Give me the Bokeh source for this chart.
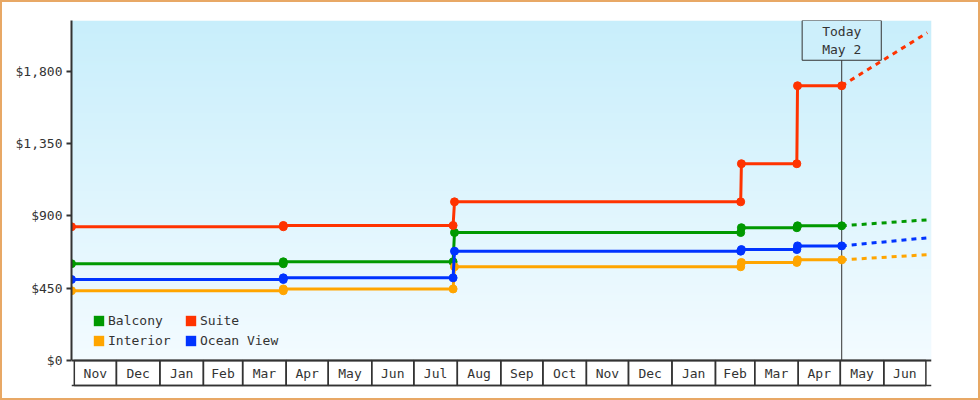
import numpy as np
import pandas as pd
from bokeh.plotting import figure
from bokeh.models import (Range1d, FixedTicker, NumeralTickFormatter, Legend,
                          LegendItem, Label)
from bokeh.core.properties import value
from bokeh.embed import file_html
from bokeh.resources import INLINE

FONT = "DejaVu Sans Mono"
TEXT = "#333333"

# ---------------- data ----------------
obs_dates = ["2013-10-30 00:00", "2014-03-30 00:00", "2014-03-30 00:00",
             "2014-07-29 00:00", "2014-07-30 00:00", "2015-02-19 00:00",
             "2015-02-19 12:00", "2015-03-31 00:00", "2015-03-31 12:00",
             "2015-05-02 00:00"]
balcony = [602, 602, 614, 614, 796, 796, 826, 826, 838, 838]
suite = [832, 832, 840, 840, 987, 987, 1224, 1224, 1709, 1709]
interior = [434, 434, 445, 445, 583, 583, 610, 610, 626, 626]
ocean_view = [504, 504, 514, 514, 680, 680, 690, 690, 713, 713]

proj_dates = ["2015-05-02 00:00", "2015-07-02 00:00"]
balcony_proj = [838, 875]
suite_proj = [1709, 2039]
interior_proj = [626, 658]
ocean_view_proj = [713, 763]

series_names = ["Balcony", "Suite", "Interior", "Ocean View"]
series_colors = ["#009900", "#ff3300", "#ffa500", "#0033ff"]

today = "2015-05-02 00:00"
today_text = "Today\nMay 2"

y_ticks = [0, 450, 900, 1350, 1800]
y_end = 2115
x_start = "2013-10-30 00:00"
x_end = "2015-07-05 00:00"

month_labels = ["Nov", "Dec", "Jan", "Feb", "Mar", "Apr", "May", "Jun", "Jul",
                "Aug", "Sep", "Oct", "Nov", "Dec", "Jan", "Feb", "Mar", "Apr",
                "May", "Jun"]
month_starts = pd.date_range("2013-11-01", periods=len(month_labels), freq="MS")
month_ends = month_starts + pd.offsets.MonthBegin(1)
month_mids = month_starts + (month_ends - month_starts) / 2

# ---------------- layout constants (pixels) ----------------
PLOT_H = 340      # price area height
STRIP_GAP = 27    # frame space below price zero (month strip)
STRIP_H = 25      # month strip box height

def ms(d):
    return pd.Timestamp(d).value / 1e6

y_start = -y_end * STRIP_GAP / PLOT_H
strip_lo = -(STRIP_GAP - STRIP_H) / STRIP_H
strip_hi = 1 + PLOT_H / STRIP_H

p = figure(width=980, height=400, x_axis_type="datetime", x_axis_location=None,
           x_range=Range1d(start=pd.Timestamp(x_start), end=pd.Timestamp(x_end)),
           y_range=Range1d(y_start, y_end),
           output_backend="svg", toolbar_location=None,
           min_border_left=71, min_border_right=49, min_border_top=20,
           min_border_bottom=400 - 20 - PLOT_H - STRIP_GAP,
           styles={"outline": "2px solid #e8a865", "outline-offset": "-2px",
                   "background-color": "white"})
p.extra_y_ranges = {"strip": Range1d(strip_lo, strip_hi)}
p.outline_line_color = None
p.border_fill_alpha = 0
p.background_fill_alpha = 0
p.grid.visible = False

# vertical gradient background of the price area
n = 256
t = np.linspace(0.0, 1.0, n)[:, None]
top = np.array([200, 238, 251])
bottom = np.array([243, 251, 255])
img = np.empty((n, 1), dtype=np.uint32)
view = img.view(dtype=np.uint8).reshape((n, 1, 4))
for k in range(3):
    view[:, :, k] = np.round(bottom[k] + (top[k] - bottom[k]) * t).astype(np.uint8)
view[:, :, 3] = 255
p.image_rgba(image=[img], x=ms(x_start), y=0, dw=ms(x_end) - ms(x_start), dh=y_end)

# today line
p.segment(x0=[pd.Timestamp(today)], y0=[0], x1=[pd.Timestamp(today)], y1=[y_end],
          line_color=TEXT, line_width=1)

dates = pd.to_datetime(obs_dates, format="%Y-%m-%d %H:%M")
pdates = pd.to_datetime(proj_dates, format="%Y-%m-%d %H:%M")
all_vals = [balcony, suite, interior, ocean_view]
all_proj = [balcony_proj, suite_proj, interior_proj, ocean_view_proj]
for vals, proj, c in zip(all_vals, all_proj, series_colors):
    p.line(x=pdates, y=proj, line_color=c, line_width=3, line_dash="5 5")
    p.line(x=dates, y=vals, line_color=c, line_width=3)
    p.scatter(x=dates, y=vals, size=8, color=c)

# month strip (acts as the x axis)
p.quad(left=month_starts, right=month_ends, bottom=0, top=1, fill_color=None,
       line_color=TEXT, line_width=1.5, y_range_name="strip")
p.hspan(y=[1], line_color=TEXT, line_width=2, y_range_name="strip")
p.hspan(y=[0], line_color=TEXT, line_width=1.5, y_range_name="strip")
p.text(x=month_mids, y=[0.5] * len(month_labels), text=month_labels,
       text_align="center", text_baseline="middle", text_font=value(FONT),
       text_font_size="13px", text_color=TEXT, y_range_name="strip")

# legend (square swatches; NaN data so only the legend shows them)
items = []
nan = float("nan")
for name, c in zip(series_names, series_colors):
    r = p.quad(left=[nan], right=[nan], top=[nan], bottom=[nan],
               fill_color=c, line_color=None)
    items.append(LegendItem(label=name, renderers=[r]))
legend = Legend(items=items, orientation="horizontal", ncols=2,
                location=(21, 12 + STRIP_GAP), padding=0, margin=0, spacing=5,
                glyph_width=13, glyph_height=13, label_height=13,
                label_width=71, label_standoff=3,
                label_text_font=FONT, label_text_font_size="13px",
                label_text_color=TEXT, background_fill_alpha=0,
                border_line_color=None)
p.add_layout(legend, "center")

# today box
p.add_layout(Label(x=ms(today), y=y_end, text=today_text, text_align="center",
                   text_baseline="top", text_font=FONT, text_font_size="13px",
                   text_color=TEXT, text_line_height=1.25,
                   background_fill_color="#cdeffb", border_line_color=TEXT,
                   border_line_width=1, padding=(20, 3)))

# y axis (only over the price area)
yax = p.yaxis[0]
yax.bounds = (0, y_end)
yax.ticker = FixedTicker(ticks=y_ticks)
yax.formatter = NumeralTickFormatter(format="$0,0")
yax.axis_line_color = TEXT
yax.axis_line_width = 2
yax.major_tick_line_color = TEXT
yax.major_tick_line_width = 2
yax.major_tick_out = 5
yax.major_tick_in = 0
yax.minor_tick_line_color = None
yax.major_label_standoff = 4
yax.major_label_text_font = FONT
yax.major_label_text_font_size = "13px"
yax.major_label_text_color = TEXT

open("out.html", "w").write(file_html(p, INLINE))
